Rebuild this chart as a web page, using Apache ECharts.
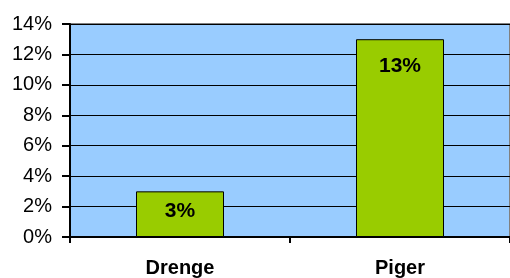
<!DOCTYPE html>
<html><head><meta charset="utf-8">
<script src="https://cdn.jsdelivr.net/npm/echarts@6/dist/echarts.min.js"></script>
<style>html,body{margin:0;padding:0;background:#fff}#c{width:510px;height:278px}</style>
</head><body><div id="c"></div>
<script>
var categories = ['Drenge', 'Piger'];
var values = [3, 13];
var yTicks = [0, 2, 4, 6, 8, 10, 12, 14];

var labelDistance = [9, 16];
var chart = echarts.init(document.getElementById('c'), null, {renderer: 'canvas'});
var font = 'Arial, "Liberation Sans", sans-serif';
chart.setOption({
  animation: false,
  grid: {left: 70, right: -7, top: 24, bottom: 41, show: true, backgroundColor: '#99CCFF', borderColor: '#808080', borderWidth: 2},
  xAxis: {
    type: 'category', data: categories,
    axisLine: {lineStyle: {color: '#000', width: 2}},
    axisTick: {show: true, length: 6, lineStyle: {color: '#000', width: 2}},
    axisLabel: {color: '#000', fontFamily: font, fontSize: 20, fontWeight: 'bold', margin: 21}
  },
  yAxis: {
    type: 'value', min: yTicks[0], max: yTicks[yTicks.length - 1], interval: yTicks[1] - yTicks[0],
    axisLine: {show: true, lineStyle: {color: '#000', width: 2}},
    axisTick: {show: true, length: 8, lineStyle: {color: '#000', width: 2}},
    axisLabel: {color: '#000', fontFamily: font, fontSize: 20, margin: 18, formatter: '{value}%'},
    splitLine: {show: true, lineStyle: {color: '#000', width: 1}}
  },
  series: [{
    type: 'bar', barWidth: '40%',
    data: values.map(function (v, i) {
      return {value: v, label: {distance: labelDistance[i]}};
    }),
    itemStyle: {color: '#99CC00', borderColor: '#000', borderWidth: 1},
    label: {show: true, position: 'insideTop', color: '#000', fontFamily: font, fontSize: 21, fontWeight: 'bold', formatter: '{c}%'}
  }]
});
</script></body></html>
